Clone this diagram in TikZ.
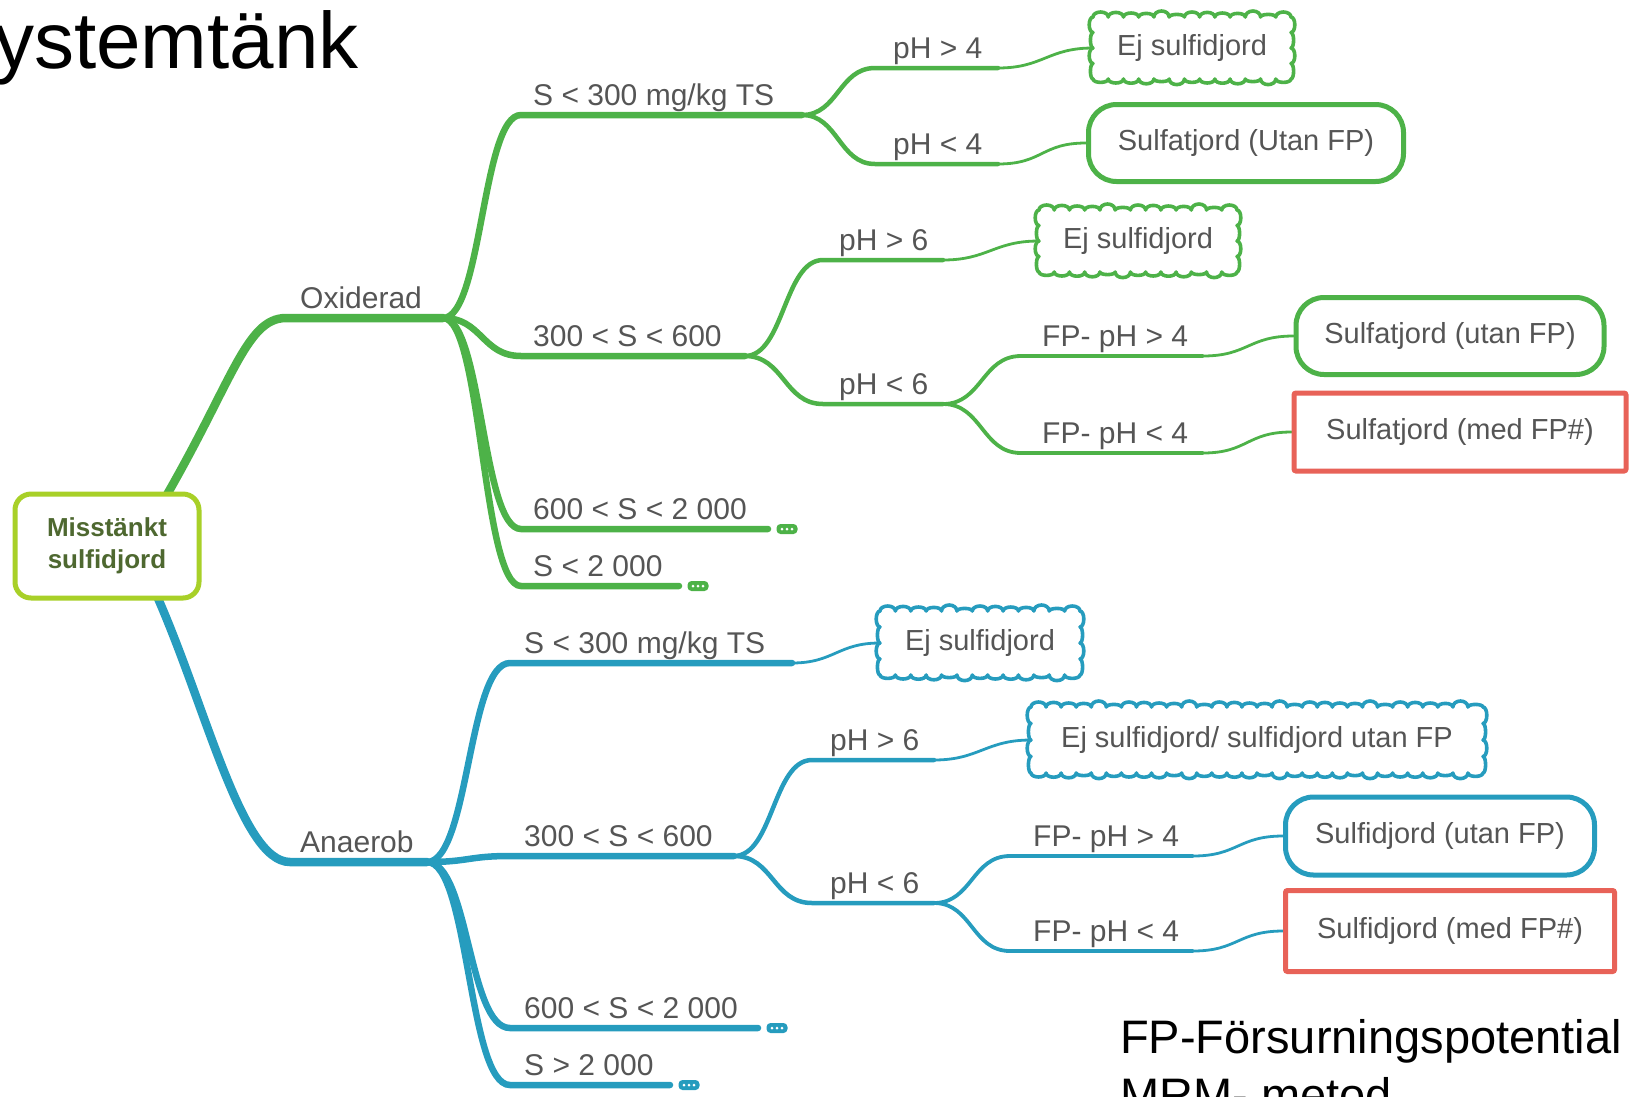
\documentclass[tikz,border=0pt]{standalone}
\usepackage{fontspec}
\setmainfont{Liberation Sans}
\definecolor{gcol}{RGB}{77,178,72}
\definecolor{bcol}{RGB}{38,156,190}
\definecolor{rcol}{RGB}{232,98,88}
\definecolor{limec}{RGB}{168,208,40}
\definecolor{roottext}{RGB}{78,104,48}
\definecolor{txt}{RGB}{85,85,85}
\pgfdeclarelayer{bg}
\pgfsetlayers{bg,main}
% cloud outline: #1 colour, #2 cx, #3 cy, #4 width, #5 height
\newcommand{\mycloud}[5]{%
  \pgfmathtruncatemacro\cnx{max(1,round(#4/15))}%
  \pgfmathtruncatemacro\cny{max(1,round(#5/15))}%
  \pgfmathsetmacro\crx{#4/(2*\cnx)}%
  \pgfmathsetmacro\cry{#5/(2*\cny)}%
  \draw[draw=#1, line width=3.6pt, line join=round] (#2-#4/2, #3-#5/2)
    \foreach \i [evaluate=\i as \am using {2.6+1.4*mod(\i,2)+1.0*mod(\i,3)}] in {1,...,\cnx}
      { arc[start angle=180, end angle=0, x radius=\crx pt, y radius=\am pt] }
    \foreach \i [evaluate=\i as \am using {2.6+1.2*mod(\i,2)}] in {1,...,\cny}
      { arc[start angle=90, end angle=-90, x radius=\am pt, y radius=\cry pt] }
    \foreach \i [evaluate=\i as \am using {2.6+1.4*mod(\i+1,2)+0.8*mod(\i,3)}] in {1,...,\cnx}
      { arc[start angle=0, end angle=-180, x radius=\crx pt, y radius=\am pt] }
    \foreach \i [evaluate=\i as \am using {2.6+1.2*mod(\i+1,2)}] in {1,...,\cny}
      { arc[start angle=-90, end angle=-270, x radius=\am pt, y radius=\cry pt] }
    -- cycle;%
}
\begin{document}
\begin{tikzpicture}[x=1pt,y=-1pt,
  lbl/.style={anchor=base west, inner sep=0, text=txt, font=\fontsize{30}{36}\selectfont},
  leaftext/.style={text=txt, font=\fontsize{29}{35}\selectfont, inner sep=0},
  wA/.style={line width=8.5pt, line cap=round},
  wB/.style={line width=6.5pt, line cap=round},
  wC/.style={line width=4.5pt, line cap=round},
  wD/.style={line width=3.8pt, line cap=round},
  wE/.style={line width=2.8pt, line cap=round},
  rootbox/.style={draw=limec, line width=5pt, rounded corners=16pt, fill=white, align=center,
     text=roottext, font=\fontsize{26}{32}\selectfont\bfseries, inner sep=0,
     minimum width=184pt, minimum height=104pt},
  cloudtext/.style={leaftext},
  roundbox/.style={leaftext, draw=#1, line width=5pt, rounded corners=28pt, fill=white},
  redbox/.style={leaftext, draw=rcol, line width=5pt, rounded corners=2pt, fill=white},
  pill/.style={fill=#1, rounded corners=4pt, minimum width=21pt, minimum height=10pt, inner sep=0}
]
\useasboundingbox (0,0) rectangle (1633,1096);

% title and footnote
\node[anchor=base west, inner sep=0, font=\fontsize{80}{96}\selectfont] (title) at (-6,68) {ystemtänk};
\node[anchor=base west, inner sep=0, font=\fontsize{47}{56}\selectfont] (fp1) at (1120,1053) {FP-Försurningspotential};
\node[anchor=base west, inner sep=0, font=\fontsize{47}{56}\selectfont] (fp2) at (1120,1111) {MRM- metod};

% root
\node[rootbox] (root) at (107,546) {Misstänkt\\sulfidjord};

% ---------- green coordinates ----------
\coordinate (rg) at (158,510);
\coordinate (ox-s) at (286,318);  \coordinate (ox-e) at (443,318);
\coordinate (g1-s) at (521,115);  \coordinate (g1-e) at (802,115);
\coordinate (g2-s) at (521,356);  \coordinate (g2-e) at (745,356);
\coordinate (g3-s) at (521,529);  \coordinate (g3-e) at (768,529);
\coordinate (g4-s) at (521,586);  \coordinate (g4-e) at (679,586);
\coordinate (g11-s) at (875,68);  \coordinate (g11-e) at (998,68);
\coordinate (g12-s) at (875,164); \coordinate (g12-e) at (998,164);
\coordinate (g21-s) at (823,260); \coordinate (g21-e) at (943,260);
\coordinate (g22-s) at (823,404); \coordinate (g22-e) at (943,404);
\coordinate (g221-s) at (1021,356); \coordinate (g221-e) at (1203,356);
\coordinate (g222-s) at (1021,453); \coordinate (g222-e) at (1203,453);

% ---------- blue coordinates ----------
\coordinate (rb) at (152,585);
\coordinate (an-s) at (290,862);  \coordinate (an-e) at (427,862);
\coordinate (b1-s) at (510,663);  \coordinate (b1-e) at (792,663);
\coordinate (b2-s) at (510,856);  \coordinate (b2-e) at (734,856);
\coordinate (b3-s) at (510,1028); \coordinate (b3-e) at (758,1028);
\coordinate (b4-s) at (510,1085); \coordinate (b4-e) at (670,1085);
\coordinate (b21-s) at (812,760); \coordinate (b21-e) at (934,760);
\coordinate (b22-s) at (812,903); \coordinate (b22-e) at (934,903);
\coordinate (b221-s) at (1010,856); \coordinate (b221-e) at (1193,856);
\coordinate (b222-s) at (1010,951); \coordinate (b222-e) at (1193,951);

% ---------- labels ----------
\node[lbl] (tox) at (300,308) {Oxiderad};
\node[lbl] (tg1) at (533,105) {S < 300 mg/kg TS};
\node[lbl] (tg2) at (533,346) {300 < S < 600};
\node[lbl] (tg3) at (533,519) {600 < S < 2 000};
\node[lbl] (tg4) at (533,576) {S < 2 000};
\node[lbl] (tg11) at (893,58) {pH > 4};
\node[lbl] (tg12) at (893,154) {pH < 4};
\node[lbl] (tg21) at (839,250) {pH > 6};
\node[lbl] (tg22) at (839,394) {pH < 6};
\node[lbl] (tg221) at (1042,346) {FP- pH > 4};
\node[lbl] (tg222) at (1042,443) {FP- pH < 4};

\node[lbl] (tan) at (300,852) {Anaerob};
\node[lbl] (tb1) at (524,653) {S < 300 mg/kg TS};
\node[lbl] (tb2) at (524,846) {300 < S < 600};
\node[lbl] (tb3) at (524,1018) {600 < S < 2 000};
\node[lbl] (tb4) at (524,1075) {S > 2 000};
\node[lbl] (tb21) at (830,750) {pH > 6};
\node[lbl] (tb22) at (830,893) {pH < 6};
\node[lbl] (tb221) at (1033,846) {FP- pH > 4};
\node[lbl] (tb222) at (1033,941) {FP- pH < 4};

% ---------- leaves ----------
\node[cloudtext, minimum width=198pt, minimum height=62pt] (L1) at (1192,48) {Ej sulfidjord};
\node[roundbox=gcol, minimum width=315pt, minimum height=77pt] (L2) at (1246,143) {Sulfatjord (Utan FP)};
\node[cloudtext, minimum width=198pt, minimum height=62pt] (L3) at (1138,241) {Ej sulfidjord};
\node[roundbox=gcol, minimum width=308pt, minimum height=77pt] (L4) at (1450,336) {Sulfatjord (utan FP)};
\node[redbox, minimum width=332pt, minimum height=78pt] (L5) at (1460,432) {Sulfatjord (med FP\#)};

\node[cloudtext, minimum width=200pt, minimum height=64pt] (M1) at (980,643) {Ej sulfidjord};
\node[cloudtext, minimum width=452pt, minimum height=66pt] (M2) at (1257,740) {Ej sulfidjord/ sulfidjord utan FP};
\node[roundbox=bcol, minimum width=309pt, minimum height=78pt] (M3) at (1440,836) {Sulfidjord (utan FP)};
\node[redbox, minimum width=329pt, minimum height=81pt] (M4) at (1450,931) {Sulfidjord (med FP\#)};

% cloud outlines
\mycloud{gcol}{1192}{48}{198}{62}
\mycloud{gcol}{1138}{241}{198}{62}
\mycloud{bcol}{980}{643}{200}{64}
\mycloud{bcol}{1257}{740}{452}{66}

% ---------- pills ----------
\node[pill=gcol] (pg3) at (787,529) {};
\node[pill=gcol] (pg4) at (698,586) {};
\node[pill=bcol] (pb3) at (777,1028) {};
\node[pill=bcol] (pb4) at (689,1085) {};
\foreach \p in {pg3,pg4,pb3,pb4}{
  \foreach \d in {-5,0,5}{\fill[white] ([xshift=\d pt]\p.center) circle (1.5);}
}

% ---------- connectors ----------
\begin{pgfonlayer}{bg}
% green
\draw[gcol,wA] (rg) .. controls (232,385) and (245,318) .. (ox-s) -- (ox-e);
\draw[gcol,wB] (ox-e) .. controls +(39,0) and +(-39,0) .. (g1-s) -- (g1-e);
\draw[gcol,wB] (ox-e) .. controls +(39,0) and +(-39,0) .. (g2-s) -- (g2-e);
\draw[gcol,wB] (ox-e) .. controls +(39,0) and +(-39,0) .. (g3-s) -- (g3-e);
\draw[gcol,wB] (ox-e) .. controls +(39,0) and +(-39,0) .. (g4-s) -- (g4-e);
\draw[gcol,wC] (g1-e) .. controls +(36,0) and +(-36,0) .. (g11-s) -- (g11-e);
\draw[gcol,wC] (g1-e) .. controls +(36,0) and +(-36,0) .. (g12-s) -- (g12-e);
\draw[gcol,wC] (g2-e) .. controls +(39,0) and +(-39,0) .. (g21-s) -- (g21-e);
\draw[gcol,wC] (g2-e) .. controls +(39,0) and +(-39,0) .. (g22-s) -- (g22-e);
\draw[gcol,wD] (g22-e) .. controls +(39,0) and +(-39,0) .. (g221-s) -- (g221-e);
\draw[gcol,wD] (g22-e) .. controls +(39,0) and +(-39,0) .. (g222-s) -- (g222-e);
\draw[gcol,wE] (g11-e) .. controls +(45,0) and +(-45,0) .. (L1.west);
\draw[gcol,wE] (g12-e) .. controls +(45,0) and +(-45,0) .. (L2.west);
\draw[gcol,wE] (g21-e) .. controls +(45,0) and +(-45,0) .. (L3.west);
\draw[gcol,wE] (g221-e) .. controls +(45,0) and +(-45,0) .. (L4.west);
\draw[gcol,wE] (g222-e) .. controls +(45,0) and +(-45,0) .. (L5.west);
% blue
\draw[bcol,wA] (rb) .. controls (205,700) and (240,862) .. (an-s) -- (an-e);
\draw[bcol,wB] (an-e) .. controls +(42,0) and +(-42,0) .. (b1-s) -- (b1-e);
\draw[bcol,wB] (an-e) .. controls +(42,0) and +(-42,0) .. (b2-s) -- (b2-e);
\draw[bcol,wB] (an-e) .. controls +(42,0) and +(-42,0) .. (b3-s) -- (b3-e);
\draw[bcol,wB] (an-e) .. controls +(42,0) and +(-42,0) .. (b4-s) -- (b4-e);
\draw[bcol,wC] (b2-e) .. controls +(39,0) and +(-39,0) .. (b21-s) -- (b21-e);
\draw[bcol,wC] (b2-e) .. controls +(39,0) and +(-39,0) .. (b22-s) -- (b22-e);
\draw[bcol,wD] (b22-e) .. controls +(38,0) and +(-38,0) .. (b221-s) -- (b221-e);
\draw[bcol,wD] (b22-e) .. controls +(38,0) and +(-38,0) .. (b222-s) -- (b222-e);
\draw[bcol,wE] (b1-e) .. controls +(42,0) and +(-42,0) .. (M1.west);
\draw[bcol,wE] (b21-e) .. controls +(45,0) and +(-45,0) .. (M2.west);
\draw[bcol,wE] (b221-e) .. controls +(45,0) and +(-45,0) .. (M3.west);
\draw[bcol,wE] (b222-e) .. controls +(45,0) and +(-45,0) .. (M4.west);
\end{pgfonlayer}
\end{tikzpicture}
\end{document}
